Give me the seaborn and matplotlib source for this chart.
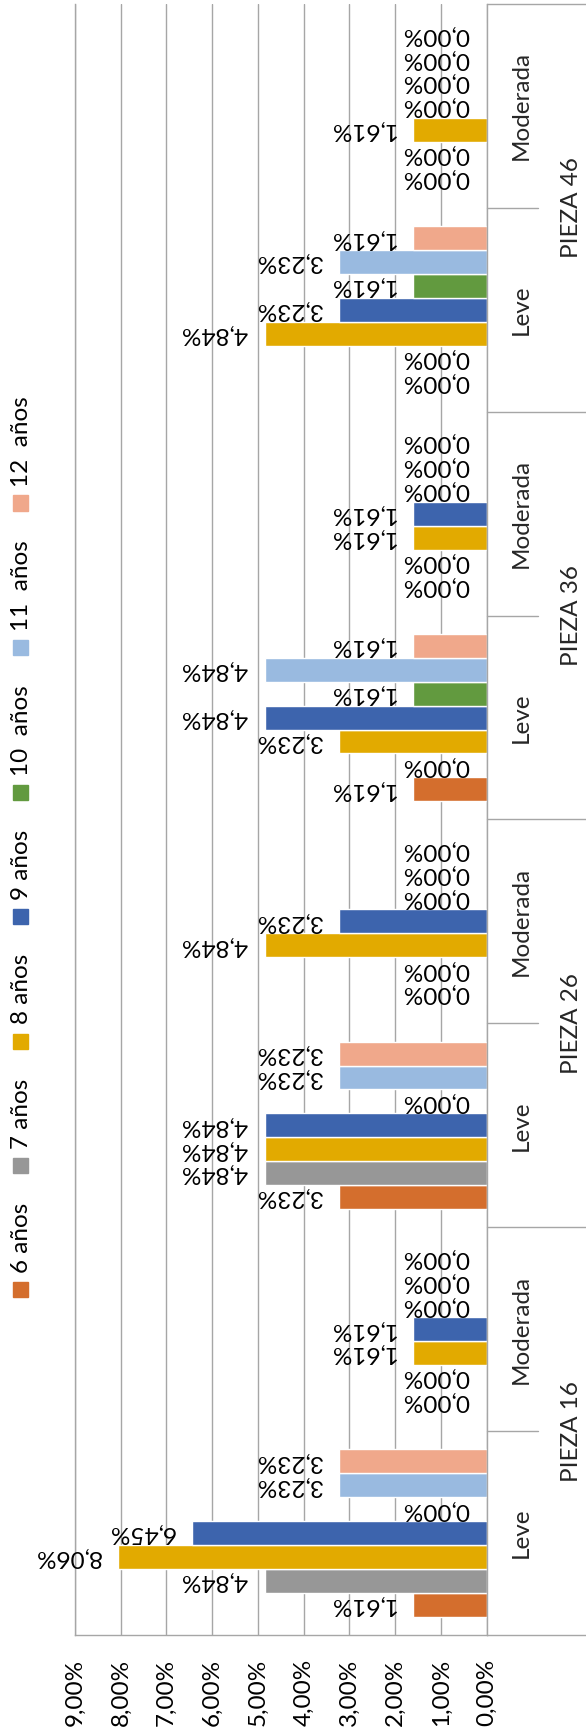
import pandas as pd
import matplotlib
matplotlib.use("Agg")
import matplotlib.pyplot as plt
from matplotlib.patches import Rectangle
from matplotlib.lines import Line2D
import seaborn as sns

# ---- data -------------------------------------------------------------
piezas = ["PIEZA 16", "PIEZA 26", "PIEZA 36", "PIEZA 46"]
grados = ["Leve", "Moderada"]
edades = ["6 años", "7 años", "8 años", "9 años", "10  años", "11  años", "12  años"]
colores = ["#D46E2D", "#979797", "#E2AA00", "#3D64AD", "#629A3F", "#99BAE0", "#F0A88B"]

# percentage per age; order: P16 Leve, P16 Moderada, P26 Leve, P26 Moderada,
# P36 Leve, P36 Moderada, P46 Leve, P46 Moderada
edad_6 = [1.61, 0.00, 3.23, 0.00, 1.61, 0.00, 0.00, 0.00]
edad_7 = [4.84, 0.00, 4.84, 0.00, 0.00, 0.00, 0.00, 0.00]
edad_8 = [8.06, 1.61, 4.84, 4.84, 3.23, 1.61, 4.84, 1.61]
edad_9 = [6.45, 1.61, 4.84, 3.23, 4.84, 1.61, 3.23, 0.00]
edad_10 = [0.00, 0.00, 0.00, 0.00, 1.61, 0.00, 1.61, 0.00]
edad_11 = [3.23, 0.00, 3.23, 0.00, 4.84, 0.00, 3.23, 0.00]
edad_12 = [3.23, 0.00, 3.23, 0.00, 1.61, 0.00, 1.61, 0.00]

ticks_pct = [0, 1, 2, 3, 4, 5, 6, 7, 8, 9]

series = [edad_6, edad_7, edad_8, edad_9, edad_10, edad_11, edad_12]
grupos = [f"{p} {g}" for p in piezas for g in grados]
filas = []
for edad, vals in zip(edades, series):
    for grupo, v in zip(grupos, vals):
        filas.append({"grupo": grupo, "edad": edad, "valor": v})
df = pd.DataFrame(filas)

# ---- style ------------------------------------------------------------
sns.set_style("white")
plt.rcParams["font.family"] = ["Lato", "DejaVu Sans"]
FS = 17.5
GRID = "#a6a6a6"


def pct(v):
    return f"{v:.2f}".replace(".", ",") + "%"


W, H = 586, 1735
fig = plt.figure(figsize=(W / 100, H / 100), dpi=100)
X0, X1, Y0, Y1 = 75.0, 486.7, 4.0, 1635.0  # plot area in pixels (from top)
ax = fig.add_axes([X0 / W, (H - Y1) / H, (X1 - X0) / W, (Y1 - Y0) / H])

sns.barplot(data=df, x="valor", y="grupo", hue="edad", order=grupos,
            hue_order=edades, palette=colores, orient="h", width=0.82,
            saturation=1, errorbar=None, legend=False, ax=ax)

ax.set_xlim(9, 0)
ax.set_ylim(-0.5, len(grupos) - 0.5)
ax.set_xticks(ticks_pct)
ax.set_xticklabels([pct(t) for t in ticks_pct])
ax.tick_params(axis="x", labelrotation=90, length=5, width=1.0, color=GRID,
               pad=12, labelsize=FS, labelcolor="black")
ax.set_yticks([])
ax.set_xlabel("")
ax.set_ylabel("")
ax.grid(axis="x", color=GRID, lw=1.0)
ax.set_axisbelow(True)
for side in ["left", "right", "bottom"]:
    ax.spines[side].set_visible(True)
    ax.spines[side].set_color(GRID)
    ax.spines[side].set_linewidth(1.0)
ax.spines["top"].set_visible(False)

# value labels beyond each bar end, upside down
for cont in ax.containers:
    for bar in cont:
        v = bar.get_width()
        yc = bar.get_y() + bar.get_height() / 2
        ax.annotate(pct(v), xy=(v, yc), xytext=(-12.5, 0),
                    textcoords="offset points", rotation=180,
                    ha="right", va="center", fontsize=FS, color="black")

# two-level category labels on the right side
trans = ax.get_yaxis_transform()
span = X1 - X0
x_inner = 1 + (538 - X1) / span
x_outer = 1 + (600 - X1) / span
for k in range(len(grupos) + 1):
    xe = x_outer if k % 2 == 0 else x_inner
    ax.add_line(Line2D([1.0, xe], [k - 0.5, k - 0.5], transform=trans,
                       color=GRID, lw=1.0, clip_on=False))
for i, g in enumerate(grupos):
    ax.text(1 + (521.5 - X1) / span, i, grados[i % 2], transform=trans,
            rotation=90, ha="center", va="center", fontsize=FS)
for j, p in enumerate(piezas):
    ax.text(1 + (572 - X1) / span, 2 * j + 0.5, p, transform=trans,
            rotation=90, ha="center", va="center", fontsize=FS)

# legend down the left edge, reading bottom to top
renderer = fig.canvas.get_renderer()
y = H - 1297.0
for edad, col in zip(edades, colores):
    fig.patches.append(Rectangle((13 / W, y / H), 15 / W, 15 / H,
                                 transform=fig.transFigure, color=col))
    t = fig.text(28.5 / W, (y + 24) / H, edad, rotation=90,
                 rotation_mode="anchor", ha="left", va="baseline",
                 fontsize=FS, color="black")
    ext = t.get_window_extent(renderer=renderer)
    y = y + 24 + ext.height + 30

fig.savefig("out.png", dpi=100)
